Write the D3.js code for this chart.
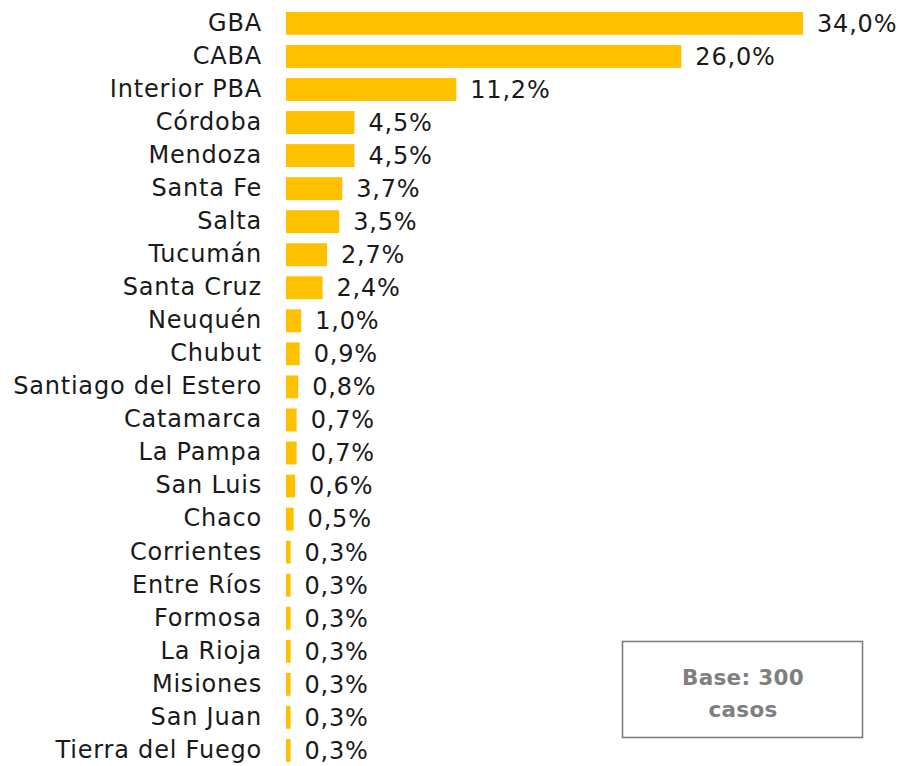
<!DOCTYPE html>
<html lang="es">
<head>
    <meta charset="utf-8">
    <title>Base por provincia</title>
    <script src="https://d3js.org/d3.v7.min.js"></script>
    <style>
    body {
        margin: 0;
        background: #fff;
        font-family: "DejaVu Sans", sans-serif;
    }
    .cat { font-size: 24px; letter-spacing: 0.8px; fill: #1a1a1a; }
    .val { font-size: 24px; letter-spacing: 0.8px; fill: #1a1a1a; }
    .base { font-size: 21.5px; letter-spacing: 0.3px; font-weight: bold; fill: #7f7f7f; }
    </style>
</head>
<body>
    <script>

    var provincias = ["GBA", "CABA", "Interior PBA", "Córdoba", "Mendoza", "Santa Fe", "Salta",
        "Tucumán", "Santa Cruz", "Neuquén", "Chubut", "Santiago del Estero", "Catamarca",
        "La Pampa", "San Luis", "Chaco", "Corrientes", "Entre Ríos", "Formosa", "La Rioja",
        "Misiones", "San Juan", "Tierra del Fuego"];

    var porcentajes = [34.0, 26.0, 11.2, 4.5, 4.5, 3.7, 3.5, 2.7, 2.4, 1.0, 0.9, 0.8, 0.7,
        0.7, 0.6, 0.5, 0.3, 0.3, 0.3, 0.3, 0.3, 0.3, 0.3];

    var baseTexto = ["Base: 300", "casos"];

    var width = 900,
        height = 766;

    var data = provincias.map(function(p, i) {
        return { name: p, value: porcentajes[i] };
    });

    var svg = d3.select("body")
        .append("svg")
        .attr("width", width)
        .attr("height", height);

    var x = d3.scaleLinear()
        .domain([0, 34])
        .range([286, 803]);

    var y = d3.scaleBand()
        .domain(provincias)
        .range([1.8, 772])
        .padding(0.307);

    var fmt = function(v) {
        return d3.format(".1f")(v).replace(".", ",") + "%";
    };

    // barras
    svg.selectAll("rect.bar")
        .data(data)
        .enter()
        .append("rect")
        .attr("class", "bar")
        .attr("x", x(0))
        .attr("y", function(d) { return y(d.name); })
        .attr("width", function(d) { return x(d.value) - x(0); })
        .attr("height", y.bandwidth())
        .attr("fill", "#ffc000");

    // nombres de provincia
    svg.selectAll("text.cat")
        .data(data)
        .enter()
        .append("text")
        .attr("class", "cat")
        .attr("x", 262)
        .attr("y", function(d) { return y(d.name) + y.bandwidth() / 2 - 1; })
        .attr("dy", "0.35em")
        .attr("text-anchor", "end")
        .text(function(d) { return d.name; });

    // valores
    svg.selectAll("text.val")
        .data(data)
        .enter()
        .append("text")
        .attr("class", "val")
        .attr("x", function(d) { return x(d.value) + 14; })
        .attr("y", function(d) { return y(d.name) + y.bandwidth() / 2; })
        .attr("dy", "0.35em")
        .text(function(d) { return fmt(d.value); });

    // cuadro de base
    var box = svg.append("g");
    box.append("rect")
        .attr("x", 622.5)
        .attr("y", 641.5)
        .attr("width", 240)
        .attr("height", 96)
        .attr("fill", "#fff")
        .attr("stroke", "#7f7f7f")
        .attr("stroke-width", 1.6);

    box.selectAll("text")
        .data(baseTexto)
        .enter()
        .append("text")
        .attr("class", "base")
        .attr("x", 743)
        .attr("y", function(d, i) { return 677 + i * 32; })
        .attr("dy", "0.35em")
        .attr("text-anchor", "middle")
        .text(function(d) { return d; });

    </script>
</body>
</html>
